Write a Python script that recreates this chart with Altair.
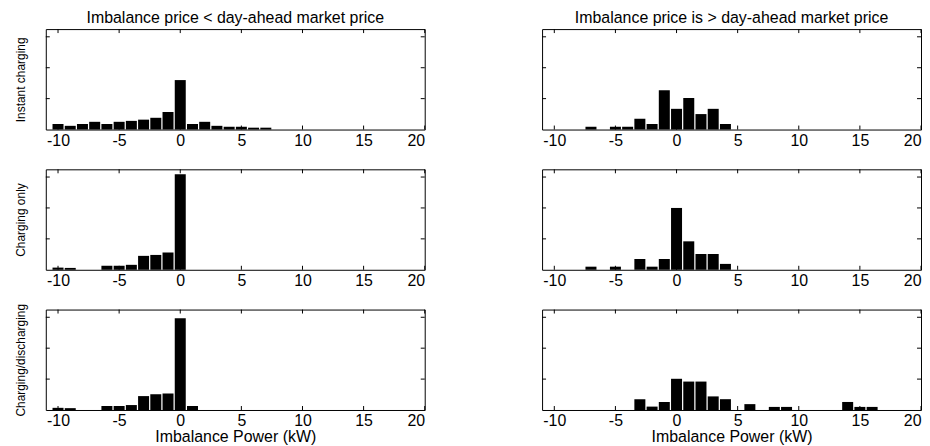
import altair as alt
import pandas as pd

# ---- data (fraction of samples per 1 kW bin) ----
COLUMN_TITLES = [
    "Imbalance price < day-ahead market price",
    "Imbalance price is > day-ahead market price",
]
ROW_TITLES = ["Instant charging", "Charging only", "Charging/discharging"]
X_TITLE = "Imbalance Power (kW)"

# Instant charging
INSTANT_LOW_X = [-10, -9, -8, -7, -6, -5, -4, -3, -2, -1, 0, 1, 2, 3, 4, 5, 6, 7]
INSTANT_LOW_Y = [0.018, 0.012, 0.018, 0.025, 0.018, 0.025, 0.028, 0.032, 0.038,
                 0.057, 0.160, 0.018, 0.025, 0.012, 0.009, 0.009, 0.006, 0.006]
INSTANT_HIGH_X = [-7, -5, -4, -3, -2, -1, 0, 1, 2, 3, 4]
INSTANT_HIGH_Y = [0.009, 0.009, 0.009, 0.035, 0.018, 0.127, 0.067, 0.102, 0.050, 0.067, 0.018]

# Charging only
CHARGE_LOW_X = [-10, -9, -6, -5, -4, -3, -2, -1, 0]
CHARGE_LOW_Y = [0.007, 0.006, 0.013, 0.013, 0.016, 0.045, 0.048, 0.056, 0.309]
CHARGE_HIGH_X = [-7, -5, -3, -2, -1, 0, 1, 2, 3, 4]
CHARGE_HIGH_Y = [0.010, 0.010, 0.035, 0.010, 0.035, 0.200, 0.092, 0.051, 0.051, 0.019]

# Charging/discharging
BOTH_LOW_X = [-10, -9, -6, -5, -4, -3, -2, -1, 0, 1]
BOTH_LOW_Y = [0.007, 0.006, 0.013, 0.013, 0.016, 0.045, 0.051, 0.053, 0.297, 0.013]
BOTH_HIGH_X = [-3, -2, -1, 0, 1, 2, 3, 4, 6, 8, 9, 14, 15, 16]
BOTH_HIGH_Y = [0.035, 0.011, 0.026, 0.101, 0.092, 0.092, 0.044, 0.035, 0.019,
               0.010, 0.010, 0.026, 0.010, 0.010]

X_TICKS = [-10, -5, 0, 5, 10, 15, 20]
Y_TICKS = [0.1, 0.2, 0.3]
X_DOMAIN = [-11, 20]
Y_DOMAIN = [0, 0.325]

W, H = 381, 101
TICK = 4
FONT = "Liberation Sans"


def panel(xs, ys, title=None, ytitle=None, xtitle=None):
    df = pd.DataFrame({"x": xs, "y": ys})
    xscale = alt.Scale(domain=X_DOMAIN, nice=False, zero=False)
    yscale = alt.Scale(domain=Y_DOMAIN, nice=False)

    xkw = dict(values=X_TICKS, ticks=False, domain=False, grid=False,
               labelPadding=3, labelFontSize=16, labelExpr="'' + datum.value",
               labelFont=FONT, labelColor="black")
    if xtitle:
        xkw.update(title=xtitle, titleFontSize=16, titlePadding=0,
                   titleFontWeight="normal", titleFont=FONT, titleColor="black")
    else:
        xkw.update(title="")
    xaxis = alt.Axis(**xkw)

    if ytitle:
        yaxis = alt.Axis(title=ytitle, labels=False, ticks=False, domain=False,
                         grid=False, titleFontSize=12, titlePadding=18,
                         titleFontWeight="normal", titleFont=FONT, titleColor="black")
    else:
        yaxis = None

    bars = alt.Chart(df).transform_calculate(
        x0="datum.x - 0.45", x1="datum.x + 0.45", y0="0"
    ).mark_bar(color="black").encode(
        x=alt.X("x0:Q", scale=xscale, axis=xaxis),
        x2="x1:Q",
        y=alt.Y("y:Q", scale=yscale, axis=yaxis),
        y2="y0:Q",
    )

    xt = pd.DataFrame({"t": X_TICKS})
    yt = pd.DataFrame({"t": Y_TICKS})
    xt_bottom = alt.Chart(xt).mark_rule(color="black", strokeWidth=1).encode(
        x=alt.X("t:Q", scale=xscale, axis=xaxis),
        y=alt.value(H), y2=alt.value(H - TICK))
    xt_top = alt.Chart(xt).mark_rule(color="black", strokeWidth=1).encode(
        x=alt.X("t:Q", scale=xscale, axis=xaxis),
        y=alt.value(0), y2=alt.value(TICK))
    yt_left = alt.Chart(yt).mark_rule(color="black", strokeWidth=1).encode(
        y=alt.Y("t:Q", scale=yscale, axis=yaxis),
        x=alt.value(0), x2=alt.value(TICK))
    yt_right = alt.Chart(yt).mark_rule(color="black", strokeWidth=1).encode(
        y=alt.Y("t:Q", scale=yscale, axis=yaxis),
        x=alt.value(W - TICK), x2=alt.value(W))

    layer = alt.layer(bars, xt_bottom, xt_top, yt_left, yt_right).properties(
        width=W, height=H)
    if title:
        layer = layer.properties(title=alt.TitleParams(
            text=title, fontSize=16, font=FONT, fontWeight="normal",
            anchor="middle", offset=3, color="black"))
    return layer


p1 = panel(INSTANT_LOW_X, INSTANT_LOW_Y, title=COLUMN_TITLES[0], ytitle=ROW_TITLES[0])
p2 = panel(INSTANT_HIGH_X, INSTANT_HIGH_Y, title=COLUMN_TITLES[1])
p3 = panel(CHARGE_LOW_X, CHARGE_LOW_Y, ytitle=ROW_TITLES[1])
p4 = panel(CHARGE_HIGH_X, CHARGE_HIGH_Y)
p5 = panel(BOTH_LOW_X, BOTH_LOW_Y, ytitle=ROW_TITLES[2], xtitle=X_TITLE)
p6 = panel(BOTH_HIGH_X, BOTH_HIGH_Y, xtitle=X_TITLE)

chart = alt.concat(
    p1, p2, p3, p4, p5, p6, columns=2,
    spacing=alt.RowColnumber(row=40, column=118), bounds="flush"
).properties(
    padding={"left": 6, "top": 0, "right": 0, "bottom": 0},
    background="white",
).configure_view(
    stroke="black", strokeWidth=1
)

chart.save("out.html", embed_options={"renderer": "svg", "actions": False})
